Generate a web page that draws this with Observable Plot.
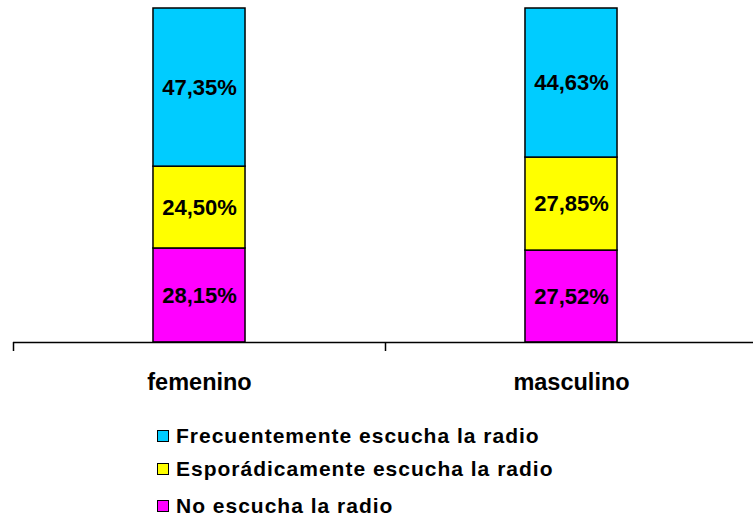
<!DOCTYPE html>
<html>
<head>
<meta charset="utf-8">
<script src="https://cdn.jsdelivr.net/npm/d3@7"></script>
<script src="https://cdn.jsdelivr.net/npm/@observablehq/plot@0.6"></script>
<style>
  html, body { margin: 0; padding: 0; background: #fff; }
  #wrap { position: relative; width: 753px; height: 522px; font-family: "Liberation Sans", Arial, sans-serif; }
  #chart { position: absolute; left: 0; top: 0; }
  .leg { position: absolute; left: 157px; display: flex; align-items: center; font-weight: bold; font-size: 21px; letter-spacing: 1px; color: #000; white-space: nowrap; }
  .sw { width: 10px; height: 10px; border: 1.5px solid #000; margin-right: 7px; }
</style>
</head>
<body>
<div id="wrap">
  <div id="chart"></div>
  <div id="legend"></div>
</div>
<script>
const categories = ["femenino", "masculino"];
const series = ["No escucha la radio", "Esporádicamente escucha la radio", "Frecuentemente escucha la radio"];
const noEscucha = [28.15, 27.52];
const esporadico = [24.50, 27.85];
const frecuente = [47.35, 44.63];
const colors = ["#FF00FF", "#FFFF00", "#00CCFF"];
const legendOrder = ["Frecuentemente escucha la radio", "Esporádicamente escucha la radio", "No escucha la radio"];

const valuesBySeries = [noEscucha, esporadico, frecuente];
const data = [];
categories.forEach((c, i) => {
  series.forEach((s, j) => {
    data.push({cat: c, idx: i, serie: s, value: valuesBySeries[j][i]});
  });
});

const hw = 0.1237;
const fmt = v => v.toFixed(2).replace(".", ",") + "%";

const chart = Plot.plot({
  width: 753,
  height: 400,
  marginTop: 8,
  marginBottom: 58,
  marginLeft: 0,
  marginRight: 0,
  style: {fontFamily: "'Liberation Sans', Arial, sans-serif", background: "white", color: "black"},
  x: {type: "linear", domain: [0, 2], range: [13, 757], axis: null},
  y: {domain: [0, 100], axis: null},
  color: {domain: series, range: colors},
  marks: [
    Plot.rectY(data, Plot.stackY({
      x1: d => d.idx + 0.5 - hw,
      x2: d => d.idx + 0.5 + hw,
      y: "value",
      fill: "serie",
      stroke: "black",
      strokeWidth: 1.5
    })),
    Plot.text(data, Plot.stackY({
      x: d => d.idx + 0.5,
      y: "value",
      text: d => fmt(d.value),
      fontSize: 22,
      fontWeight: "bold",
      fill: "black"
    })),
    Plot.ruleY([0], {x1: 0, x2: 2, stroke: "black", strokeWidth: 1.5}),
    Plot.axisX({ticks: [0, 1, 2], tickSize: 9, tickFormat: () => "", stroke: "black", strokeWidth: 1.5, strokeOpacity: 1}),
    Plot.axisX({ticks: [0.5, 1.5], tickSize: 0, tickPadding: 31, tickFormat: v => categories[Math.floor(v)], fontSize: 23.5, fontWeight: "bold", fill: "black"})
  ]
});
document.getElementById("chart").appendChild(chart);

const legendTops = [436, 469, 506];
const legend = document.getElementById("legend");
legendOrder.forEach((s, k) => {
  const row = document.createElement("div");
  row.className = "leg";
  row.style.top = (legendTops[k] - 12) + "px";
  row.style.height = "24px";
  const sw = document.createElement("div");
  sw.className = "sw";
  sw.style.background = colors[series.indexOf(s)];
  const t = document.createElement("span");
  t.textContent = s;
  row.appendChild(sw);
  row.appendChild(t);
  legend.appendChild(row);
});
</script>
</body>
</html>
